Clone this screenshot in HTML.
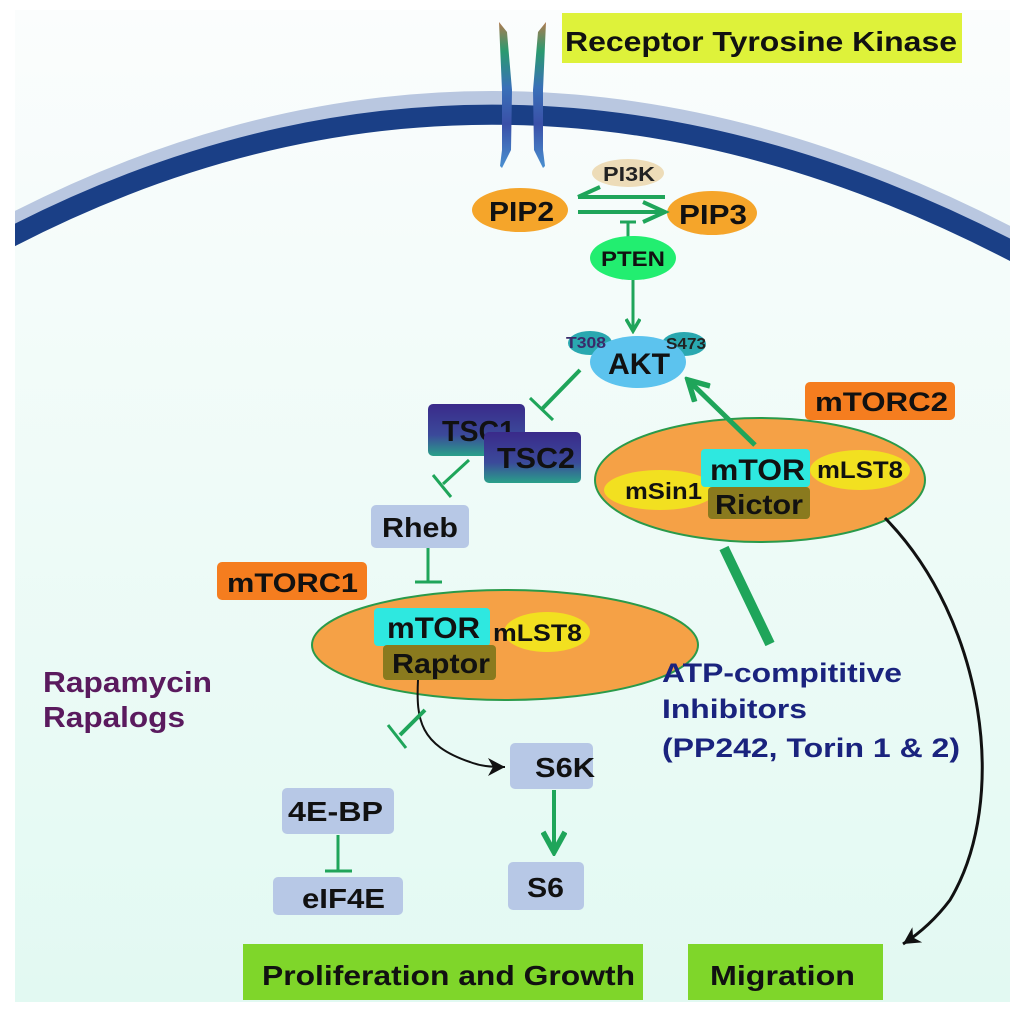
<!DOCTYPE html>
<html><head><meta charset="utf-8">
<style>
html,body{margin:0;padding:0;background:#fff;}
svg{display:block;}
text{font-family:"Liberation Sans",Arial,sans-serif;font-weight:bold;}
</style></head>
<body>
<svg width="1024" height="1016" viewBox="0 0 1024 1016" xmlns="http://www.w3.org/2000/svg">
<defs>
<linearGradient id="bg" x1="0" y1="0" x2="0" y2="1">
<stop offset="0" stop-color="#fbfdfd"/><stop offset="1" stop-color="#e2f9f2"/>
</linearGradient>
<linearGradient id="tsc" x1="0" y1="0" x2="0" y2="1">
<stop offset="0" stop-color="#3a2a8a"/><stop offset="0.6" stop-color="#3b4a9a"/><stop offset="1" stop-color="#2aa08a"/>
</linearGradient>
<linearGradient id="rec" x1="0" y1="0" x2="0" y2="1">
<stop offset="0" stop-color="#b07a50"/><stop offset="0.2" stop-color="#2a9a70"/><stop offset="0.45" stop-color="#3a70b8"/><stop offset="0.7" stop-color="#3a50a8"/><stop offset="1" stop-color="#4a90d0"/>
</linearGradient>
<clipPath id="cl"><rect x="15" y="10" width="995" height="992"/></clipPath>
<marker id="ga" markerWidth="16" markerHeight="16" refX="12" refY="8" orient="auto" markerUnits="userSpaceOnUse" viewBox="0 0 16 16">
<path d="M1,1 L13,8 L1,15" fill="none" stroke="#1fa55a" stroke-width="3.5"/></marker>
<marker id="ga2" markerWidth="26" markerHeight="26" refX="22" refY="13" orient="auto" markerUnits="userSpaceOnUse" viewBox="0 0 26 26">
<path d="M2,2 L22,13 L2,24" fill="none" stroke="#1fa55a" stroke-width="5.5"/></marker>
<marker id="ba" markerWidth="22" markerHeight="22" refX="18" refY="11" orient="auto" markerUnits="userSpaceOnUse" viewBox="0 0 22 22">
<path d="M1,2 L18,11 L1,20 L6,11 Z" fill="#111"/></marker>
</defs>
<rect x="15" y="10" width="995" height="992" fill="url(#bg)"/>
<!-- membrane -->
<g clip-path="url(#cl)">
<path d="M5,233 Q500,-28 1020,248" fill="none" stroke="#b9c7e0" stroke-width="30"/>
<path d="M5,240 Q500,-18 1020,255" fill="none" stroke="#1a3f86" stroke-width="20"/>
</g>
<!-- receptor -->
<path d="M499,22 L507,32 L512,90 L511,150 L502,168 L500,166 L502,150 L502,90 Z" fill="url(#rec)"/>
<path d="M546,22 L538,32 L533,90 L534,150 L543,168 L545,166 L543,150 L543,90 Z" fill="url(#rec)"/>
<rect x="562" y="13" width="400" height="50" fill="#def23a"/>
<text x="565" y="51" font-size="28" textLength="392" lengthAdjust="spacingAndGlyphs" fill="#111">Receptor Tyrosine Kinase</text>
<!-- PI3K -->
<ellipse cx="628" cy="173" rx="36" ry="14" fill="#eddcb8"/>
<text x="603" y="181" font-size="20" textLength="52" lengthAdjust="spacingAndGlyphs" fill="#222">PI3K</text>
<ellipse cx="520" cy="210" rx="48" ry="22" fill="#f5a52a"/>
<text x="489" y="221" font-size="28" textLength="65" lengthAdjust="spacingAndGlyphs" fill="#111">PIP2</text>
<ellipse cx="712" cy="213" rx="45" ry="22" fill="#f5a52a"/>
<text x="679" y="224" font-size="28" textLength="68" lengthAdjust="spacingAndGlyphs" fill="#111">PIP3</text>
<line x1="665" y1="197" x2="578" y2="197" stroke="#1fa55a" stroke-width="4"/>
<path d="M600,187 L578,197" stroke="#1fa55a" stroke-width="4" fill="none"/>
<line x1="578" y1="212" x2="665" y2="212" stroke="#1fa55a" stroke-width="4"/>
<path d="M643,202 L665,212 L643,222" stroke="#1fa55a" stroke-width="4" fill="none"/>
<line x1="628" y1="222" x2="628" y2="240" stroke="#1fa55a" stroke-width="3"/>
<line x1="620" y1="222" x2="636" y2="222" stroke="#1fa55a" stroke-width="3"/>
<ellipse cx="633" cy="258" rx="43" ry="22" fill="#22ee70"/>
<text x="601" y="266" font-size="21" textLength="64" lengthAdjust="spacingAndGlyphs" fill="#111">PTEN</text>
<line x1="633" y1="280" x2="633" y2="330" stroke="#1fa55a" stroke-width="3" marker-end="url(#ga)"/>
<!-- AKT -->
<ellipse cx="590" cy="343" rx="22" ry="12" fill="#2aa8b0"/>
<ellipse cx="684" cy="344" rx="22" ry="12" fill="#2aa8b0"/>
<ellipse cx="638" cy="362" rx="48" ry="26" fill="#5cc3ee"/>
<text x="608" y="374" font-size="30" textLength="62" lengthAdjust="spacingAndGlyphs" fill="#111">AKT</text>
<text x="566" y="348" font-size="16" textLength="40" lengthAdjust="spacingAndGlyphs" fill="#3a2a6a">T308</text>
<text x="666" y="349" font-size="16" textLength="40" lengthAdjust="spacingAndGlyphs" fill="#222">S473</text>
<!-- AKT -| TSC -->
<line x1="580" y1="370" x2="541" y2="410" stroke="#1fa55a" stroke-width="4"/>
<line x1="530" y1="398" x2="553" y2="420" stroke="#1fa55a" stroke-width="3"/>
<!-- TSC -->
<rect x="428" y="404" width="97" height="52" rx="5" fill="url(#tsc)"/>
<text x="442" y="441" font-size="29" textLength="73" lengthAdjust="spacingAndGlyphs" fill="#111">TSC1</text>
<rect x="484" y="432" width="97" height="51" rx="5" fill="url(#tsc)"/>
<text x="497" y="468" font-size="29" textLength="78" lengthAdjust="spacingAndGlyphs" fill="#111">TSC2</text>
<line x1="469" y1="460" x2="443" y2="484" stroke="#1fa55a" stroke-width="3"/>
<line x1="433" y1="475" x2="451" y2="497" stroke="#1fa55a" stroke-width="3"/>
<!-- Rheb -->
<rect x="371" y="505" width="98" height="43" rx="5" fill="#b7c8e6"/>
<text x="382" y="537" font-size="28" textLength="76" lengthAdjust="spacingAndGlyphs" fill="#111">Rheb</text>
<line x1="428" y1="548" x2="428" y2="582" stroke="#1fa55a" stroke-width="3"/>
<line x1="415" y1="582" x2="442" y2="582" stroke="#1fa55a" stroke-width="3"/>
<!-- mTORC1 -->
<rect x="217" y="562" width="150" height="38" rx="5" fill="#f57d1f"/>
<text x="227" y="592" font-size="27" textLength="131" lengthAdjust="spacingAndGlyphs" fill="#111">mTORC1</text>
<ellipse cx="505" cy="645" rx="193" ry="55" fill="#f5a146" stroke="#2a9a4a" stroke-width="2"/>
<ellipse cx="547" cy="632" rx="43" ry="20" fill="#f2e020"/>
<rect x="374" y="608" width="116" height="38" rx="4" fill="#2ee8e0"/>
<text x="387" y="638" font-size="30" textLength="93" lengthAdjust="spacingAndGlyphs" fill="#111">mTOR</text>
<text x="493" y="641" font-size="24" textLength="89" lengthAdjust="spacingAndGlyphs" fill="#111">mLST8</text>
<rect x="383" y="645" width="113" height="35" rx="4" fill="#8a7a1e"/>
<text x="392" y="673" font-size="28" textLength="98" lengthAdjust="spacingAndGlyphs" fill="#111">Raptor</text>
<!-- Raptor to S6K -->
<path d="M418,680 C416,720 420,745 470,762 C480,766 490,767 505,767" fill="none" stroke="#111" stroke-width="2" marker-end="url(#ba)"/>
<line x1="425" y1="710" x2="400" y2="735" stroke="#1fa55a" stroke-width="4"/>
<line x1="388" y1="725" x2="406" y2="748" stroke="#1fa55a" stroke-width="3"/>
<rect x="510" y="743" width="83" height="46" rx="5" fill="#b7c8e6"/>
<text x="535" y="777" font-size="28" textLength="60" lengthAdjust="spacingAndGlyphs" fill="#111">S6K</text>
<line x1="554" y1="790" x2="554" y2="852" stroke="#1fa55a" stroke-width="4" marker-end="url(#ga2)"/>
<rect x="508" y="862" width="76" height="48" rx="5" fill="#b7c8e6"/>
<text x="527" y="897" font-size="28" textLength="37" lengthAdjust="spacingAndGlyphs" fill="#111">S6</text>
<rect x="282" y="788" width="112" height="46" rx="5" fill="#b7c8e6"/>
<text x="288" y="821" font-size="28" textLength="95" lengthAdjust="spacingAndGlyphs" fill="#111">4E-BP</text>
<line x1="338" y1="835" x2="338" y2="871" stroke="#1fa55a" stroke-width="3"/>
<line x1="325" y1="871" x2="352" y2="871" stroke="#1fa55a" stroke-width="3"/>
<rect x="273" y="877" width="130" height="38" rx="5" fill="#b7c8e6"/>
<text x="302" y="908" font-size="28" textLength="83" lengthAdjust="spacingAndGlyphs" fill="#111">eIF4E</text>
<!-- Rapamycin -->
<text x="43" y="692" font-size="29" textLength="169" lengthAdjust="spacingAndGlyphs" fill="#5a1a5e">Rapamycin</text>
<text x="43" y="727" font-size="29" textLength="142" lengthAdjust="spacingAndGlyphs" fill="#5a1a5e">Rapalogs</text>
<!-- mTORC2 -->
<rect x="805" y="382" width="150" height="38" rx="5" fill="#f57d1f"/>
<text x="815" y="411" font-size="27" textLength="133" lengthAdjust="spacingAndGlyphs" fill="#111">mTORC2</text>
<ellipse cx="760" cy="480" rx="165" ry="62" fill="#f5a146" stroke="#2a9a4a" stroke-width="2"/>
<ellipse cx="660" cy="490" rx="56" ry="20" fill="#f2e020"/>
<ellipse cx="860" cy="470" rx="50" ry="20" fill="#f2e020"/>
<line x1="755" y1="445" x2="688" y2="380" stroke="#1fa55a" stroke-width="5" marker-end="url(#ga2)"/>
<rect x="701" y="449" width="109" height="38" rx="4" fill="#2ee8e0"/>
<text x="710" y="480" font-size="30" textLength="95" lengthAdjust="spacingAndGlyphs" fill="#111">mTOR</text>
<text x="817" y="478" font-size="24" textLength="86" lengthAdjust="spacingAndGlyphs" fill="#111">mLST8</text>
<text x="625" y="499" font-size="23" textLength="77" lengthAdjust="spacingAndGlyphs" fill="#111">mSin1</text>
<rect x="708" y="487" width="102" height="32" rx="4" fill="#8a7a1e"/>
<text x="715" y="514" font-size="28" textLength="88" lengthAdjust="spacingAndGlyphs" fill="#111">Rictor</text>
<!-- ATP inhibitor line -->
<line x1="770" y1="644" x2="724" y2="548" stroke="#1fa55a" stroke-width="10"/>
<text x="662" y="682" font-size="27" textLength="240" lengthAdjust="spacingAndGlyphs" fill="#1a237e">ATP-compititive</text>
<text x="662" y="718" font-size="27" textLength="145" lengthAdjust="spacingAndGlyphs" fill="#1a237e">Inhibitors</text>
<text x="662" y="757" font-size="27" textLength="298" lengthAdjust="spacingAndGlyphs" fill="#1a237e">(PP242, Torin 1 &amp; 2)</text>
<!-- migration curve -->
<path d="M885,518 C985,620 1010,800 950,900 C935,920 920,933 903,944" fill="none" stroke="#111" stroke-width="3" marker-end="url(#ba)"/>
<!-- outputs -->
<rect x="243" y="944" width="400" height="56" fill="#7fd62a"/>
<text x="262" y="985" font-size="28" textLength="373" lengthAdjust="spacingAndGlyphs" fill="#111">Proliferation and Growth</text>
<rect x="688" y="944" width="195" height="56" fill="#7fd62a"/>
<text x="710" y="985" font-size="28" textLength="145" lengthAdjust="spacingAndGlyphs" fill="#111">Migration</text>
</svg>
</body></html>
